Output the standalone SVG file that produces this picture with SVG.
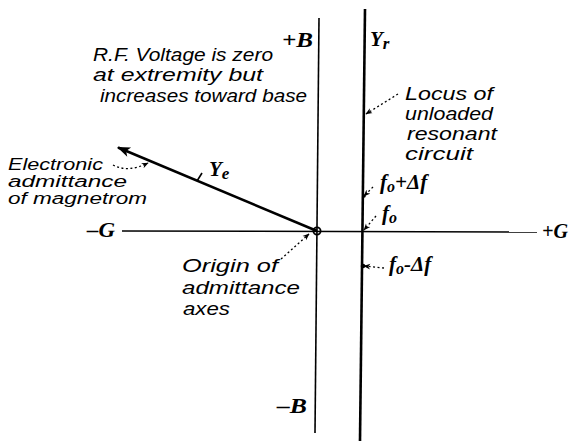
<svg xmlns="http://www.w3.org/2000/svg" width="571" height="441" viewBox="0 0 571 441">
<defs>
<style>
.note{font-family:"Liberation Sans",Arial,sans-serif;font-style:italic;font-size:18px;fill:#000}
.sm{font-size:16px}
.lab{font-family:"Liberation Serif","Times New Roman",serif;font-style:italic;font-weight:bold;font-size:21px;fill:#000}
.ax{stroke:#000;stroke-width:1.6;fill:none}
.thick{stroke:#000;stroke-width:2.6;fill:none}
.dot{stroke:#000;stroke-width:1.3;fill:none;stroke-dasharray:2 2.5}
</style>
<marker id="ah" viewBox="0 0 10 10" refX="9" refY="5" markerWidth="7" markerHeight="7" orient="auto" markerUnits="userSpaceOnUse">
<path d="M0,1 L10,5 L0,9 L3,5 Z" fill="#000"/>
</marker>
<marker id="big" viewBox="0 0 12 10" refX="11" refY="5" markerWidth="14" markerHeight="11" orient="auto" markerUnits="userSpaceOnUse">
<path d="M0,0.5 L12,5 L0,9.5 L3,5 Z" fill="#000"/>
</marker>
</defs>
<rect width="571" height="441" fill="#fff"/>

<g id="axes">
<line id="g-axis" class="ax" x1="122" y1="231" x2="537" y2="232"/>
<line id="b-axis" class="ax" x1="319" y1="18" x2="315" y2="433"/>
</g>

<g id="connectors">
<line id="yr-line" class="thick" x1="365" y1="9" x2="360" y2="441"/>
<line id="ye-vector" class="thick" x1="317" y1="231" x2="118" y2="147.5" marker-end="url(#big)"/>
<line class="ax" x1="197" y1="181" x2="202" y2="173"/>
<path class="dot" d="M398,94 L366,114" marker-end="url(#ah)"/>
<path class="dot" d="M113,165 Q128,173 148,163" marker-end="url(#ah)"/>
<path class="dot" d="M281,259 L309,234" marker-end="url(#ah)"/>
<path class="dot" d="M373,187 L364,196" marker-end="url(#ah)"/>
<path class="dot" d="M376,216 L364,230" marker-end="url(#ah)"/>
<path class="dot" d="M384,268 L364,266" marker-end="url(#ah)"/>
<circle cx="363" cy="266" r="2.3" fill="#000"/>
<circle cx="364" cy="196" r="1.8" fill="#000"/>
</g>

<g id="origin">
<circle cx="317" cy="231" r="3.6" fill="none" stroke="#000" stroke-width="1.8"/>
</g>

<g id="label-plus-b"><text class="lab" x="282" y="47" textLength="31" lengthAdjust="spacingAndGlyphs">+B</text></g>
<g id="label-minus-b"><text class="lab" x="277" y="413" textLength="30" lengthAdjust="spacingAndGlyphs">–B</text></g>
<g id="label-minus-g"><text class="lab" x="87" y="237" textLength="28" lengthAdjust="spacingAndGlyphs">–G</text></g>
<g id="label-plus-g"><text class="lab" x="542" y="238" textLength="26" lengthAdjust="spacingAndGlyphs">+G</text></g>
<g id="label-yr"><text class="lab" x="370" y="46">Y<tspan font-size="17" dy="3">r</tspan></text></g>
<g id="label-ye"><text class="lab" x="209" y="176">Y<tspan font-size="17" dy="3">e</tspan></text></g>

<g id="note-rf">
<text class="note" x="93" y="61" textLength="180" lengthAdjust="spacingAndGlyphs">R.F. Voltage is zero</text>
<text class="note" x="93" y="81" textLength="170" lengthAdjust="spacingAndGlyphs">at extremity but</text>
<text class="note" x="100" y="102" textLength="207" lengthAdjust="spacingAndGlyphs">increases toward base</text>
</g>

<g id="note-locus">
<text class="note" x="405" y="100" textLength="88" lengthAdjust="spacingAndGlyphs">Locus of</text>
<text class="note" x="405" y="120" textLength="88" lengthAdjust="spacingAndGlyphs">unloaded</text>
<text class="note" x="407" y="140" textLength="90" lengthAdjust="spacingAndGlyphs">resonant</text>
<text class="note" x="405" y="160" textLength="68" lengthAdjust="spacingAndGlyphs">circuit</text>
</g>

<g id="note-electronic">
<text class="note sm" x="8" y="170" textLength="95" lengthAdjust="spacingAndGlyphs">Electronic</text>
<text class="note sm" x="8" y="187" textLength="119" lengthAdjust="spacingAndGlyphs">admittance</text>
<text class="note sm" x="8" y="204" textLength="139" lengthAdjust="spacingAndGlyphs">of magnetrom</text>
</g>

<g id="note-origin">
<text class="note" x="182" y="272" textLength="96" lengthAdjust="spacingAndGlyphs">Origin of</text>
<text class="note" x="182" y="294" textLength="118" lengthAdjust="spacingAndGlyphs">admittance</text>
<text class="note" x="183" y="315" textLength="47" lengthAdjust="spacingAndGlyphs">axes</text>
</g>

<g id="label-f-plus"><text class="lab" x="380" y="189">f<tspan font-size="16" dy="3">o</tspan><tspan dy="-3">+Δf</tspan></text></g>
<g id="label-f0"><text class="lab" x="382" y="220">f<tspan font-size="16" dy="3">o</tspan></text></g>
<g id="label-f-minus"><text class="lab" x="389" y="271">f<tspan font-size="16" dy="3">o</tspan><tspan dy="-3">-Δf</tspan></text></g>
</svg>
